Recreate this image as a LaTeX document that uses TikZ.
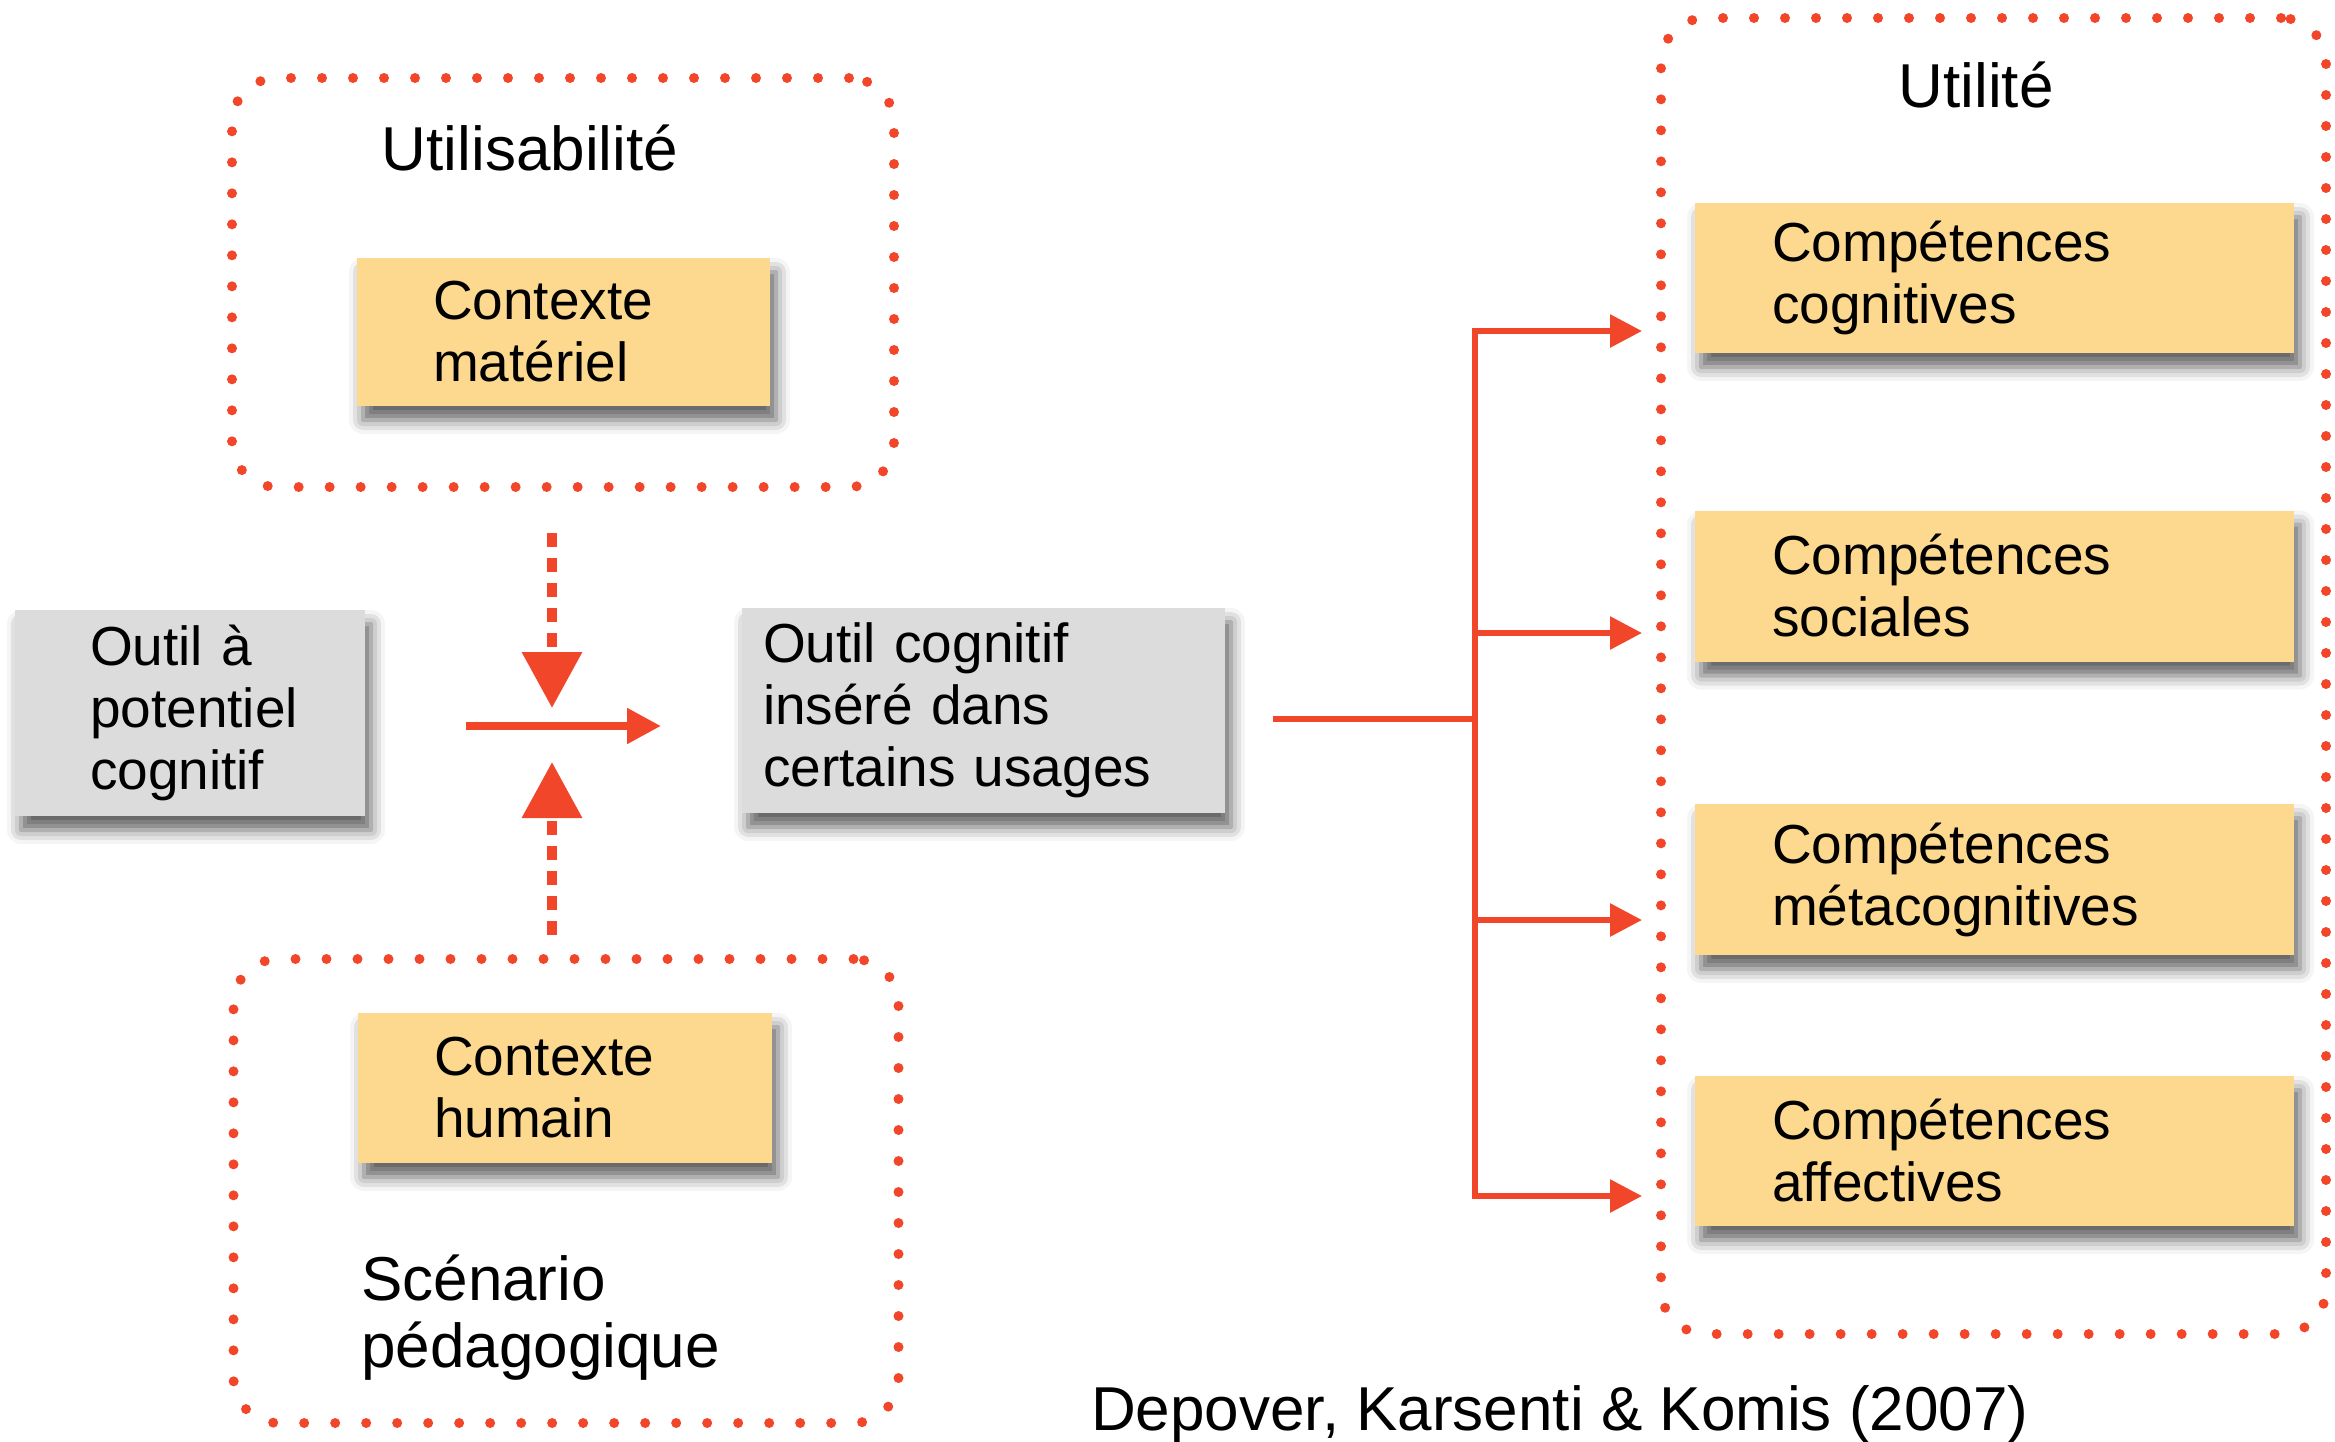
\documentclass[tikz,border=0pt]{standalone}
\usepackage{fontspec}
\setmainfont{Liberation Sans}
\usetikzlibrary{arrows.meta,shadows.blur}
\definecolor{redo}{RGB}{242,70,42}
\definecolor{boxyel}{RGB}{253,217,143}
\definecolor{boxgray}{RGB}{220,220,220}
\tikzset{
 dotbox/.style={draw=redo, line width=10pt, dash pattern=on 0pt off 31pt, line cap=round, rounded corners=45pt, inner sep=0pt},
 card/.style={inner ysep=0pt, align=left, blur shadow={shadow xshift=6pt, shadow yshift=-14pt, shadow blur radius=14pt, shadow opacity=62}, font=\fontsize{55}{62}\selectfont},
 yelcard/.style={card, fill=boxyel},
 graycard/.style={card, fill=boxgray},
 title/.style={font=\fontsize{62}{67}\selectfont, inner sep=0pt},
 link/.style={draw=redo, line width=6pt},
 bigtip/.style={-{Triangle[length=34pt,width=34pt]}},
 smalltip/.style={-{Triangle[length=32pt,width=32pt]}},
 dashlink/.style={draw=redo, line width=10pt, dash pattern=on 14pt off 11pt, -{Triangle[length=56pt,width=58pt]}},
}
\begin{document}
\begin{tikzpicture}[x=1pt,y=-1pt]
\useasboundingbox (0,0) rectangle (2335,1441);
% dotted groups
\node[dotbox, minimum width=662pt, minimum height=409pt] (grpU) at (563,282.5) {};
\node[dotbox, minimum width=665pt, minimum height=464pt] (grpS) at (566,1191) {};
\node[dotbox, minimum width=665pt, minimum height=1316pt] (grpR) at (1993.5,676) {};
% titles
\node[title, anchor=base] (tU) at (530,170) {Utilisabilité};
\node[title, anchor=base] (tUt) at (1976,107) {Utilité};
\node[title, anchor=north west, align=left] (tS) at (361,1255) {Scénario\\pédagogique};
\node[title, anchor=base west] (cite) at (1091,1430) {Depover, Karsenti \& Komis (2007)};
% cards
\node[yelcard, minimum height=148pt, text width=261pt, inner xsep=76pt] (ctxmat) at (563.5,332) {Contexte\\matériel};
\node[yelcard, minimum height=150pt, text width=262pt, inner xsep=76pt] (ctxhum) at (565,1088) {Contexte\\humain};
\node[graycard, minimum height=206pt, text width=200pt, inner xsep=75pt] (outA) at (190,713) {Outil à\\potentiel\\cognitif};
\node[graycard, minimum height=205pt, text width=441pt, inner xsep=21pt] (outC) at (983.5,710.5) {Outil cognitif\\inséré dans\\certains usages};
\node[yelcard, minimum height=150pt, text width=445pt, inner xsep=77pt] (comp1) at (1994.5,278) {Compétences\\cognitives};
\node[yelcard, minimum height=151pt, text width=445pt, inner xsep=77pt] (comp2) at (1994.5,586) {Compétences\\sociales};
\node[yelcard, minimum height=151pt, text width=445pt, inner xsep=77pt] (comp3) at (1994.5,879.5) {Compétences\\métacognitives};
\node[yelcard, minimum height=150pt, text width=445pt, inner xsep=77pt] (comp4) at (1994.5,1151) {Compétences\\affectives};
% central arrows
\coordinate (hs) at (466,726);
\coordinate (he) at (661,726);
\coordinate (ds) at (552,533);
\coordinate (de) at (552,708);
\coordinate (us) at (552,935);
\coordinate (ue) at (552,762);
% right tree
\coordinate (ms) at (1273,719);
\coordinate (mj) at (1475,719);
\coordinate (b1) at (1475,331);
\coordinate (b2) at (1475,633);
\coordinate (b3) at (1475,920);
\coordinate (b4) at (1475,1196);
\coordinate (a1) at (1642,331);
\coordinate (a2) at (1642,633);
\coordinate (a3) at (1642,920);
\coordinate (a4) at (1642,1196);
% connectors
\draw[link, line width=8pt, bigtip] (hs) -- (he);
\draw[dashlink] (ds) -- (de);
\draw[dashlink] (us) -- (ue);
\draw[link] (ms) -- (mj);
\draw[link, smalltip] (b4) -- (b1) -- (a1);
\draw[link, smalltip] (b1) -- (b4) -- (a4);
\draw[link, smalltip] (b2) -- (a2);
\draw[link, smalltip] (b3) -- (a3);
\end{tikzpicture}
\end{document}
